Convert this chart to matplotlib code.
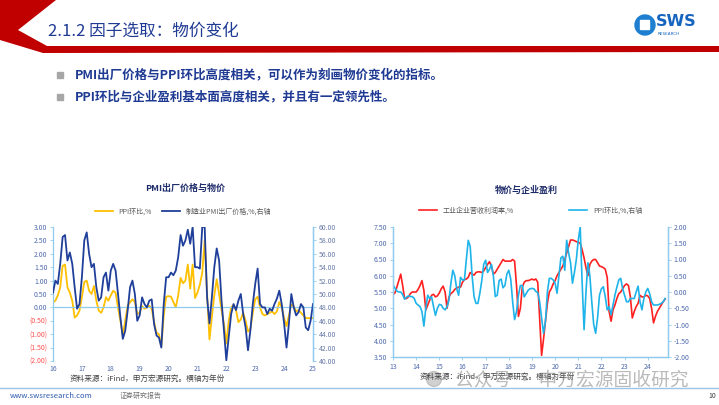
import numpy as np
import matplotlib
matplotlib.use('Agg')
import matplotlib.pyplot as plt
from matplotlib.patches import Polygon, Rectangle, Circle

plt.rcParams['font.family'] = ['Noto Sans CJK SC', 'DejaVu Sans']
plt.rcParams['axes.unicode_minus'] = False

# ---- left chart: PMI出厂价格 vs PPI环比, monthly 2016-01 .. 2025-01
ppi_16 = [0.19, 0.25, 0.45, 0.75, 1.55, 1.6, 0.75, 0.55, 0.25, -0.38, -0.3, -0.12,
          0.38, 0.95, 1.0, 0.62, 0.5, 0.8, 0.25, -0.12, -0.2, 0.0, 0.38, 0.25,
          0.45, 0.62, 0.55, 0.0, -0.5, -1.05, -0.5, 0.06, 0.19, 0.3, 0.2, -0.25,
          -0.2, 0.05, -0.05, 0.0, 0.06, -0.05, -0.55, -0.95, -1.0, -1.45, -0.3, 0.4,
          0.42, 0.4, 0.2, 0.0, 0.45, 1.1, 0.9, 1.0, 1.6, 0.7, 1.6, 0.35,
          0.55, 0.85, 1.3, 2.5, 0.5, -1.2, -0.35, 0.45, 1.05, 0.5, -0.1, -0.6,
          -1.35, -0.5, 0.0, 0.1, -0.1, -0.55, -0.45, -0.2, -0.5, -0.9, -0.8, -0.2,
          0.3, 0.4, 0.0, -0.25, -0.3, -0.25, -0.2, -0.15, -0.25, -0.15, 0.2, 0.0,
          -0.4, -0.7, -0.3, 0.1, 0.05, -0.15, -0.1, -0.2, -0.3, -0.4, -0.4, -0.4,
          -0.4]
pmi_price = [50.2, 52, 51.5, 54.5, 58.5, 58.8, 55, 56.2, 54.5, 51, 47.8, 48.5,
             52.5, 58, 59.2, 56, 54, 54.5, 51, 49, 49.5, 52.5, 53.2, 50.5,
             53.5, 54.5, 53.5, 50, 46.5, 43.3, 44.5, 47.5, 51, 52, 50, 46,
             46.8, 49.5, 48.5, 48, 49, 49.2, 45.5, 43.8, 43.5, 42, 48.5, 52.5,
             52.5, 53.2, 52.8, 53.5, 55.5, 58.8, 57.2, 58, 59.6, 57.5, 60, 54,
             54, 53.8, 60, 60, 49.5, 45.6, 49.5, 54, 56.8, 55, 49, 44.6,
             40.1, 43.6, 47, 48.5, 47.6, 49, 50, 47, 45, 41.6, 44.6, 48.5,
             51.5, 53.8, 48.5, 48, 48, 47, 47.8, 47.5, 48.5, 49.3, 50.5, 48.5,
             45.6, 42, 45.6, 50, 48, 46.8, 47.3, 48.5, 48, 45, 44.6, 46,
             48.5]
years_l = ['16', '17', '18', '19', '20', '21', '22', '23', '24', '25']

# ---- right chart: 工业企业营收利润率 vs PPI环比, monthly 2013-01 .. 2024-10
margin = [5.42, 5.47, 5.65, 5.85, 6.05, 5.7, 5.3, 5.3, 5.35, 5.45, 5.5, 5.5,
          5.5, 5.58, 5.7, 5.85, 5.55, 4.95, 5.1, 5.25, 5.4, 5.43, 5.35, 5.38,
          5.47, 5.6, 5.68, 5.5, 5.0, 5.35, 5.45, 5.5, 5.58, 5.62, 5.65, 5.65,
          5.8, 5.88, 5.9, 5.95, 6.1, 6.05, 6.02, 6.1, 6.12, 6.12, 6.1, 6.15,
          6.25, 6.35, 6.43, 6.3, 6.05, 6.1, 6.2, 6.3, 6.4, 6.5, 6.45, 6.45,
          6.45, 6.45, 6.5, 6.45, 5.7, 4.75, 5.0, 5.65, 5.8, 5.85, 5.85, 5.87,
          5.9, 5.87, 5.9, 5.8, 4.65, 3.55, 4.05, 4.6, 5.15, 5.5, 5.6, 5.75,
          5.85, 6.0, 6.1, 6.2, 6.3, 6.5, 6.7, 6.9, 7.1, 7.1, 7.08, 7.05,
          7.03, 7.0, 6.8, 6.55, 6.25, 6.0, 6.35, 6.45, 6.5, 6.5, 6.4, 6.3,
          6.28, 6.25, 6.2, 5.95, 4.9, 4.6, 4.95, 5.1, 5.3, 5.45, 5.5, 5.6,
          5.7, 5.75, 5.7, 5.35, 4.7, 4.9, 5.05, 5.15, 5.4, 5.35, 5.35, 5.4,
          5.38, 5.3, 5.0, 4.55, 4.75, 4.9, 5.0, 5.1, 5.2, 5.28]
ppi_13 = [0.21, 0.12, 0.03, 0.0, 0.0, -0.08, -0.22, -0.16, -0.12, -0.14, -0.14, -0.2,
          -0.35, -0.4, -0.45, -0.6, -1.05, -0.5, -0.1, -0.2, -0.15, -0.45, -0.72, -0.5,
          -0.38, -0.4, -0.5, -0.55, -0.45, -0.25, 0.27, 0.67, 0.5, 0.1, -0.1, 0.45,
          0.37, 0.37, 1.0, 1.59, 1.4, 0.5, -0.14, -0.35, -0.35, -0.04, 0.35, 0.85,
          0.98, 0.6, 0.7, 0.85, 0.5, -0.14, -0.1, 0.35, 0.4, 0.13, 0.2, 0.55,
          0.67, 0.4, -0.3, -0.85, -0.6, -0.1, 0.2, 0.2, -0.15, -0.05, 0.05, 0.1,
          0.11, 0.1, 0.02, -0.02, -0.3, -0.8, -1.27, -0.9, 0.0, 0.42, 0.42, 0.37,
          0.27, -0.04, 0.5, 1.05, 1.1, 0.67, 1.59, 1.2, 0.9, 0.27, 0.6, 1.0,
          1.6, 2.0, 0.3, -1.16, 0.0, 0.9, 0.5, -0.3, -1.0, -1.27, -0.8, -0.1,
          0.1, 0.16, -0.15, -0.55, -0.45, -0.7, -0.4, -0.1, 0.15, 0.37, 0.42, 0.1,
          -0.1, -0.3, -0.3, -0.2, -0.2, -0.2, 0.0, 0.18, -0.3, -0.55, -0.2, 0.0,
          0.11, -0.05, -0.3, -0.4, -0.4, -0.4, -0.38, -0.35, -0.3, -0.2]
years_r = ['13', '14', '15', '16', '17', '18', '19', '20', '21', '22', '23', '24']

W, H = 719, 405
NAVY = '#1F3A93'
LBLUE = '#8FCBEF'
TICKC = '#4F6AAE'

fig = plt.figure(figsize=(W / 100, H / 100), dpi=100)

# page decoration drawn in pixel coordinates
bg = fig.add_axes([0, 0, 1, 1])
bg.set_xlim(0, W)
bg.set_ylim(H, 0)
bg.axis('off')

bg.add_patch(Polygon([(0, 0), (56, 0), (18, 30), (47, 46), (W, 46), (W, 52),
                      (43, 53), (0, 40)], closed=True, color='#C00000', lw=0))
bg.text(48, 31, '2.1.2 因子选取：物价变化', fontsize=12, color=NAVY, va='center')

# logo
bg.add_patch(Circle((645, 25), 10, color='#1E7FD0'))
bg.add_patch(Rectangle((640, 20), 9, 9, color='white'))
bg.text(656, 22, 'SWS', fontsize=11.5, fontweight='bold', color='#1565C0',
        va='center', family='DejaVu Sans')
bg.text(658, 34, 'RESEARCH', fontsize=3, color='#1565C0', va='center',
        family='DejaVu Sans')

# bullets
bullets = ['PMI出厂价格与PPI环比高度相关，可以作为刻画物价变化的指标。',
           'PPI环比与企业盈利基本面高度相关，并且有一定领先性。']
for i, b in enumerate(bullets):
    yy = 75 + 22 * i
    bg.add_patch(Rectangle((57, yy - 3), 6, 6, color='#A6A6A6'))
    bg.text(75, yy, b, fontsize=9, fontweight='bold', color=NAVY, va='center')

# chart titles / sources
bg.text(185, 188, 'PMI出厂价格与物价', fontsize=6.5, fontweight='bold',
        color='#1F2D6B', ha='center', va='center')
bg.text(526, 190, '物价与企业盈利', fontsize=6.5, fontweight='bold',
        color='#1F2D6B', ha='center', va='center')
src = '资料来源：iFind，申万宏源研究。横轴为年份'
bg.text(70, 379, src, fontsize=5.5, color='#404040', va='center')
bg.text(420, 377, src, fontsize=5.5, color='#404040', va='center')

# footer
bg.plot([0, W], [388, 388], color='#9DC3E6', lw=1)
bg.text(10, 396, 'www.swsresearch.com', fontsize=5.5, color='#2E5AAC', va='center')
bg.text(120, 396, '证券研究报告', fontsize=5, color='#707070', va='center')
bg.text(708, 396, '10', fontsize=5, color='#404040', va='center')

# watermark icon
bg.add_patch(Circle((434, 379), 7.5, color='#9a9a9a', alpha=0.45))


def style_ax(ax, hide_bottom=True):
    ax.spines['top'].set_visible(False)
    ax.spines['bottom'].set_visible(not hide_bottom)
    for s in ['left', 'right', 'bottom']:
        ax.spines[s].set_color(LBLUE)
        ax.spines[s].set_linewidth(0.9)
    ax.tick_params(axis='both', labelsize=5, colors=LBLUE, labelcolor=TICKC,
                   length=2, width=0.6, pad=2)


# ---- left chart
x1 = np.arange(len(pmi_price))
ax1 = fig.add_axes([53 / W, 1 - 361 / H, 260 / W, 134 / H])
ax1.set_facecolor('none')
l1, = ax1.plot(x1, ppi_16, color='#FFC000', lw=1.3)
ax1.axhline(0, color=LBLUE, lw=0.9)
ax1.set_xlim(0, 108)
ax1.set_ylim(-2, 3)
style_ax(ax1)
yt = np.arange(-2, 3.01, 0.5)
ax1.set_yticks(yt)
ax1.set_yticklabels(['(%.2f)' % -v if v < 0 else '%.2f' % v for v in yt])
for lab, v in zip(ax1.get_yticklabels(), yt):
    lab.set_color('#FF5050' if v < 0 else TICKC)
ax1.set_xticks(np.arange(0, 109, 12))
ax1.set_xticklabels(years_l)
ax1.tick_params(axis='x', length=0, pad=3)
ax1r = ax1.twinx()
l2, = ax1r.plot(x1, pmi_price, color='#1F3F9A', lw=1.3)
ax1r.set_ylim(40, 60)
ax1r.set_yticks(np.arange(40, 60.1, 2))
ax1r.set_yticklabels(['%.2f' % v for v in np.arange(40, 60.1, 2)])
style_ax(ax1r)
ax1r.spines['left'].set_visible(False)
ax1r.tick_params(axis='y', labelcolor='#6A7BA8')
ax1.legend([l1, l2], ['PPI环比,%', '制造业PMI出厂价格,%,右轴'], loc='lower center',
           bbox_to_anchor=(0.5, 1.04), ncol=2, frameon=False, fontsize=5,
           handlelength=2.6, columnspacing=1.5, labelcolor='#595959')

# ---- right chart
x2 = np.arange(len(margin))
ax2 = fig.add_axes([393 / W, 1 - 357 / H, 275 / W, 130 / H])
ax2.set_facecolor('none')
r1, = ax2.plot(x2, margin, color='#FF2020', lw=1.2)
ax2.set_xlim(0, 142.5)
ax2.set_ylim(3.5, 7.5)
style_ax(ax2, hide_bottom=False)
ax2.set_yticks(np.arange(3.5, 7.51, 0.5))
ax2.set_yticklabels(['%.2f' % v for v in np.arange(3.5, 7.51, 0.5)])
ax2.set_xticks(np.arange(0, 133, 12))
ax2.set_xticklabels(years_r)
ax2r = ax2.twinx()
r2, = ax2r.plot(x2, ppi_13, color='#1EB4EA', lw=1.2)
ax2r.set_ylim(-2, 2)
ax2r.set_yticks(np.arange(-2, 2.01, 0.5))
ax2r.set_yticklabels(['%.2f' % v for v in np.arange(-2, 2.01, 0.5)])
style_ax(ax2r, hide_bottom=False)
ax2.legend([r1, r2], ['工业企业营收利润率,%', 'PPI环比,%,右轴'], loc='lower center',
           bbox_to_anchor=(0.5, 1.05), ncol=2, frameon=False, fontsize=5,
           handlelength=2.6, columnspacing=8, labelcolor='#595959')

# watermark text on top of everything
fig.text(455 / W, 1 - 380 / H, '公众号 · 申万宏源固收研究', fontsize=13.5,
         color='#8c8c8c', alpha=0.6, va='center', zorder=6)

fig.savefig('out.png', dpi=100)
